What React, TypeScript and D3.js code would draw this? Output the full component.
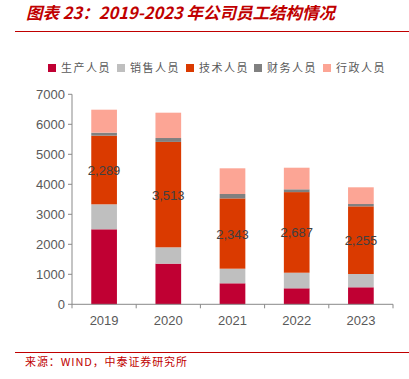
import React from "react";
import * as d3 from "d3";

const years = ["2019", "2020", "2021", "2022", "2023"];
const seriesNames = ["生产人员", "销售人员", "技术人员", "财务人员", "行政人员"];
const production = [2500, 1355, 700, 533, 567];
const sales = [833, 545, 487, 520, 443];
const tech = [2289, 3513, 2343, 2687, 2255];
const finance = [100, 130, 147, 93, 78];
const admin = [765, 844, 856, 720, 557];
const yTicks = [0, 1000, 2000, 3000, 4000, 5000, 6000, 7000];
const colors = ["#C00033", "#BFBFBF", "#DA3A00", "#808080", "#FCA595"];

export default function App() {
  const W = 409, H = 379;
  const left = 72, right = 393, top = 94.3, bottom = 304.3;
  const x = d3.scaleBand<string>().domain(years).range([left, right]).paddingInner(0.6).paddingOuter(0.3);
  const y = d3.scaleLinear().domain([0, 7000]).range([bottom, top]);
  const rows = years.map((yr, i) => ({
    year: yr,
    s0: production[i], s1: sales[i], s2: tech[i], s3: finance[i], s4: admin[i],
  }));
  const stack = d3.stack<any>().keys(["s0", "s1", "s2", "s3", "s4"]);
  const layers = stack(rows);
  const band = d3.scaleBand<string>().domain(years).range([left, right]);
  const font = "'Liberation Sans', Arial, sans-serif";
  const cjk = "'Noto Sans CJK SC', sans-serif";

  const legendX = [48, 117, 186, 254, 323];

  return (
    <svg width={W} height={H} style={{ position: "absolute", left: 0, top: 0 }}>
      <rect width={W} height={H} fill="#fff" />
      <text x={26} y={18.5} fill="#C00000" fontSize={16.5} fontWeight="bold" fontStyle="italic" fontFamily={cjk}>
        图表 23：2019-2023 年公司员工结构情况
      </text>
      <line x1={15} x2={409} y1={31.5} y2={31.5} stroke="#C00000" strokeWidth={1} />

      {seriesNames.map((n, i) => (
        <g key={n}>
          <rect x={legendX[i]} y={64} width={8} height={8} fill={colors[i]} />
          <text x={legendX[i] + 13} y={72} fontSize={11} fill="#595959" fontFamily={cjk} letterSpacing={1.5}>{n}</text>
        </g>
      ))}

      {layers.map((layer, li) =>
        layer.map((d, j) => (
          <rect key={`${li}-${j}`} x={x(years[j])!} width={x.bandwidth()} y={y(d[1])} height={y(d[0]) - y(d[1])} fill={colors[li]} />
        ))
      )}

      {layers[2].map((d, j) => (
        <text key={`lbl${j}`} x={x(years[j])! + x.bandwidth() / 2} y={(y(d[0]) + y(d[1])) / 2 + 5} textAnchor="middle" fontSize={13} fill="#404040" fontFamily={font}>
          {d3.format(",")(tech[j])}
        </text>
      ))}

      <line x1={left} x2={left} y1={top} y2={bottom} stroke="#898989" />
      <line x1={left} x2={right} y1={bottom} y2={bottom} stroke="#898989" />
      {yTicks.map((t) => (
        <g key={t}>
          <line x1={left - 4} x2={left} y1={y(t)} y2={y(t)} stroke="#898989" />
          <text x={left - 7} y={y(t) + 4.5} textAnchor="end" fontSize={13} fill="#595959" fontFamily={font}>{t}</text>
        </g>
      ))}
      {[...years.map((yr) => band(yr)!), right].map((v, i) => (
        <line key={i} x1={v} x2={v} y1={bottom} y2={bottom + 4} stroke="#898989" />
      ))}
      {years.map((yr) => (
        <text key={yr} x={band(yr)! + band.bandwidth() / 2} y={325} textAnchor="middle" fontSize={13} fill="#595959" fontFamily={font}>{yr}</text>
      ))}

      <line x1={15} x2={409} y1={352.5} y2={352.5} stroke="#C00000" strokeWidth={1} />
      <text x={25} y={366} fontSize={11} fill="#C00000" fontFamily={cjk} letterSpacing={0.9}>来源：WIND，中泰证券研究所</text>
    </svg>
  );
}
